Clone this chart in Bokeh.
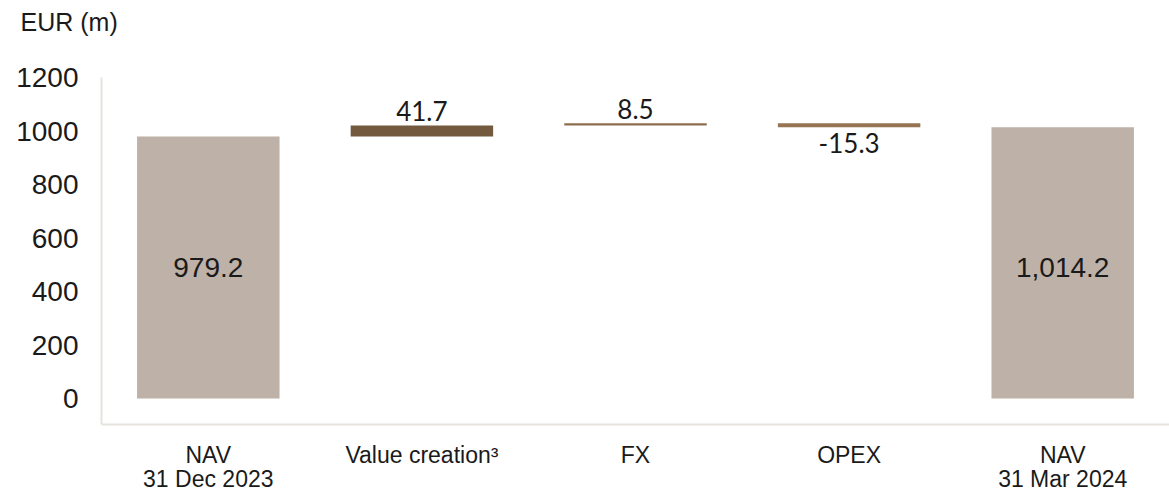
from bokeh.plotting import figure
from bokeh.models import ColumnDataSource, Range1d, FixedTicker, Title
from bokeh.core.properties import value
from bokeh.embed import file_html
from bokeh.resources import INLINE

# NAV bridge, EUR millions
categories = ["NAV\n31 Dec 2023", "Value creation\u00b3", "FX", "OPEX", "NAV\n31 Mar 2024"]
nav_start = 979.2
nav_end = 1014.2
delta_values = [41.7, 8.5, -15.3]
delta_colors = ["#735A3E", "#8C6E4F", "#957552"]
y_ticks = [0, 200, 400, 600, 800, 1000, 1200]

NAV_COLOR = "#BEB1A8"
AXIS_COLOR = "#E6E3DE"
TEXT_COLOR = "#1A1A1A"
BAR_WIDTH = 0.667

# floating segments of the bridge
bottoms, tops = [], []
level = nav_start
for d in delta_values:
    bottoms.append(level)
    tops.append(level + d)
    level += d

p = figure(
    x_range=categories,
    y_range=Range1d(-97, 1200),
    width=1169,
    height=496,
    output_backend="svg",
    toolbar_location=None,
    min_border_left=101,
    min_border_right=0,
    min_border_top=77,
    min_border_bottom=72,
)
p.outline_line_color = None
p.xgrid.visible = False
p.ygrid.visible = False
p.background_fill_color = "white"
p.border_fill_color = "white"

# NAV totals
nav_src = ColumnDataSource(dict(
    x=[categories[0], categories[-1]],
    top=[nav_start, nav_end],
    label=[f"{nav_start:,.1f}", f"{nav_end:,.1f}"],
    ly=[nav_start / 2, nav_start / 2],
))
p.vbar(x="x", top="top", bottom=0, width=BAR_WIDTH, source=nav_src,
       fill_color=NAV_COLOR, line_color=None)
p.text(x="x", y="ly", text="label", source=nav_src,
       text_font=value("Liberation Sans"), text_font_size="28px",
       text_color=TEXT_COLOR, text_align="center", text_baseline="middle")

# bridge movements
d_src = ColumnDataSource(dict(
    x=categories[1:4],
    bottom=bottoms,
    top=tops,
    color=delta_colors,
    label=[f"{v:.1f}" for v in delta_values],
    ly=[max(b, t) if v >= 0 else min(b, t) for b, t, v in zip(bottoms, tops, delta_values)],
    base=["bottom" if v >= 0 else "top" for v in delta_values],
    yoff=[-4 if v >= 0 else 6 for v in delta_values],
))
p.vbar(x="x", top="top", bottom="bottom", width=BAR_WIDTH, source=d_src,
       fill_color="color", line_color=None)
p.text(x="x", y="ly", text="label", source=d_src, y_offset="yoff",
       text_font=value("Lato"), text_font_size="26px", text_color=TEXT_COLOR,
       text_align="center", text_baseline="base")

# axes
p.yaxis.ticker = FixedTicker(ticks=y_ticks)
p.yaxis.major_tick_line_color = None
p.yaxis.minor_tick_line_color = None
p.yaxis.axis_line_color = AXIS_COLOR
p.yaxis.axis_line_width = 2
p.yaxis.major_label_text_font = "Liberation Sans"
p.yaxis.major_label_text_font_size = "28px"
p.yaxis.major_label_text_color = TEXT_COLOR
p.yaxis.major_label_standoff = 17

p.xaxis.major_tick_line_color = None
p.xaxis.axis_line_color = AXIS_COLOR
p.xaxis.axis_line_width = 2
p.xaxis.major_label_text_font = "Liberation Sans"
p.xaxis.major_label_text_font_size = "23px"
p.xaxis.major_label_text_color = TEXT_COLOR
p.xaxis.major_label_text_line_height = 0.95
p.xaxis.major_label_standoff = 11

# unit caption, with a blank second line to lift it away from the frame
p.add_layout(Title(text="EUR (m)\n ", align="left", offset=-81, standoff=10,
                   text_font="Liberation Sans", text_font_size="25px",
                   text_line_height=1.3,
                   text_font_style="normal", text_color=TEXT_COLOR), "above")

open("out.html", "w").write(file_html(p, INLINE))
